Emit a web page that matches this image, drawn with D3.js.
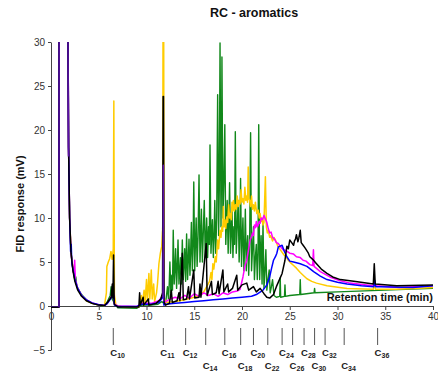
<!DOCTYPE html>
<html>
<head>
<meta charset="utf-8">
<script src="https://cdn.jsdelivr.net/npm/d3@7"></script>
<style>
  html, body { margin: 0; padding: 0; background: #fff; }
  svg { display: block; font-family: "Liberation Sans", Arial, sans-serif; }
</style>
</head>
<body>
<svg id="chart" width="438" height="373"></svg>
<script>
// ---------------- DATA ----------------
const chartTitle = "RC - aromatics";
const yTicks = [-5, 0, 5, 10, 15, 20, 25, 30];
const xTicks = [0, 5, 10, 15, 20, 25, 30, 35, 40];

const carbonLabels = ["10","11","12","14","16","18","20","22","24","26","28","30","32","34","36"];
const carbonTimes  = [6.52, 11.76, 14.1, 16.2, 18.2, 19.86, 21.2, 22.7, 24.2, 25.3, 26.5, 27.6, 28.7, 30.7, 34.2];
const carbonRow    = [0, 0, 0, 1, 0, 1, 0, 1, 0, 1, 0, 1, 0, 1, 0];

// [retention time (min), FID response (mV)]
const greenTrace = [[0,-0.15],[0.82,-0.15],[0.86,32],[1.78,32],[1.84,18],[1.95,10],[2.1,6],[2.3,4.2],[2.5,3],[2.6,3.3],[2.7,2.2],[3.2,1.3],[3.7,0.7],[4.3,0.3],[5.0,0.1],[5.6,0],[5.9,0.5],[6.2,1.2],[6.3,2.2],[6.4,0.8],[6.7,0.2],[7.0,-0.2],[9.0,-0.25],[9.5,0.1],[10.5,0.1],[11.2,0.2],[11.6,0.5],[11.9,0.2],[12.05,0.8],[12.2,2.2],[12.3,0.8],[12.38,2.5],[12.45,5.0],[12.55,1.5],[12.65,3.5],[12.72,1.8],[12.8,8.6],[12.9,2.5],[12.97,4.0],[13.05,6.5],[13.15,2],[13.22,4.2],[13.3,7.5],[13.4,2.5],[13.48,4.0],[13.55,5.5],[13.65,2.5],[13.75,7.5],[13.85,3],[13.92,4.5],[14.0,6.5],[14.1,2.8],[14.2,8.2],[14.3,3],[14.37,5.0],[14.45,7.6],[14.55,3.5],[14.62,6.0],[14.7,9.5],[14.8,4],[14.88,7.0],[14.95,14.1],[15.05,4],[15.12,7.0],[15.2,10],[15.3,4.5],[15.4,8.0],[15.5,14.9],[15.6,5],[15.68,8.0],[15.75,11],[15.85,5],[15.95,8.5],[16.05,12],[16.15,5.5],[16.22,7.5],[16.3,10],[16.4,5.5],[16.5,9.0],[16.58,7.0],[16.65,18.3],[16.75,6],[16.82,8.0],[16.9,9.8],[17.0,5.5],[17.08,8.0],[17.15,12],[17.25,6],[17.35,10],[17.45,24],[17.55,8],[17.62,13],[17.7,29.9],[17.8,9],[17.85,15],[17.9,28.3],[18.0,10],[18.1,14],[18.2,20.6],[18.3,7],[18.38,9.5],[18.45,12],[18.55,6],[18.62,9.0],[18.7,14],[18.8,6],[18.88,8.5],[18.95,11],[19.05,5.5],[19.15,9.0],[19.22,7.0],[19.3,19.8],[19.4,6],[19.5,9.0],[19.6,12],[19.7,5],[19.78,8.0],[19.85,14.5],[19.95,4.5],[20.02,7.5],[20.1,10],[20.2,4],[20.28,7.0],[20.35,11],[20.45,4],[20.52,6.5],[20.6,8],[20.7,3.5],[20.8,7.0],[20.9,19.7],[21.0,4],[21.1,6.5],[21.2,9],[21.3,3],[21.4,5.5],[21.5,7],[21.6,3],[21.68,6.0],[21.75,20.6],[21.85,3],[21.92,5.5],[22.0,8],[22.1,2.5],[22.2,9.4],[22.3,2],[22.4,4.0],[22.5,6.4],[22.6,1.8],[22.72,3.0],[22.85,4.1],[22.95,1.5],[23.08,2.2],[23.2,3],[23.35,1.2],[23.6,1.0],[23.95,1.1],[24.0,3.2],[24.05,1.0],[24.45,1.1],[24.5,2.4],[24.55,1.1],[25,1.2],[26.05,1.3],[26.1,3],[26.15,1.3],[27.55,1.5],[27.6,2],[27.65,1.5],[30,1.6],[35,1.8],[40,2.0]];

const yellowTrace = [[0,-0.15],[0.82,-0.15],[0.86,32],[1.78,32],[1.84,18],[1.95,10],[2.1,6],[2.3,4.2],[2.5,3],[2.8,2],[3.2,1.2],[3.7,0.6],[4.3,0.3],[5.0,0.1],[5.6,0.05],[5.8,1.5],[5.85,4.5],[6.0,5.0],[6.15,5.4],[6.28,6.2],[6.4,5.3],[6.52,6.5],[6.58,23.3],[6.64,1.2],[6.8,0.1],[7.5,-0.1],[9.2,-0.1],[9.3,0.3],[9.45,1.2],[9.55,0.2],[9.75,1.8],[9.85,0.3],[10.0,3.0],[10.1,0.5],[10.25,3.7],[10.35,0.8],[10.5,4.1],[10.6,0.8],[10.75,2.5],[10.85,0.5],[11.05,1.5],[11.15,2.5],[11.3,4.8],[11.45,6.0],[11.6,6.8],[11.7,9],[11.73,32],[11.8,32],[11.84,1.0],[12.0,0.4],[13,0.5],[14,0.7],[15,1.0],[15.5,1.2],[16,1.6],[16.3,2.2],[16.6,2.8],[16.75,3.8],[16.85,3.0],[16.95,4.8],[17.05,4.2],[17.2,5.6],[17.3,5.0],[17.45,7.5],[17.55,6.5],[17.7,8.6],[17.8,7.8],[17.9,9.0],[17.98,8.5],[18.05,11.3],[18.12,9.0],[18.2,9.8],[18.3,8.8],[18.4,10.1],[18.5,9.5],[18.6,11.5],[18.7,10.0],[18.8,10.5],[18.88,9.8],[18.95,11.8],[19.02,10.8],[19.1,12],[19.2,10.8],[19.3,11.5],[19.4,11.0],[19.5,12.5],[19.6,11.3],[19.7,12.0],[19.8,11.6],[19.9,13.2],[20.0,11.8],[20.1,12.2],[20.2,11.6],[20.3,13.5],[20.4,12.0],[20.5,12.5],[20.58,11.8],[20.65,15.8],[20.72,12.2],[20.8,12],[20.9,11.3],[21.0,12.5],[21.1,11.0],[21.2,11.5],[21.3,10.8],[21.4,11.8],[21.55,10.5],[21.7,10.9],[21.8,10.0],[21.9,10.5],[22.0,9.6],[22.1,10],[22.2,9.2],[22.3,9.5],[22.45,14.7],[22.55,9],[22.65,8.3],[22.75,8.6],[22.9,7.8],[23.0,8],[23.2,7.4],[23.35,7.8],[23.5,7.5],[23.75,6.8],[24.0,6.4],[24.2,6.1],[24.4,5.8],[24.6,5.6],[24.85,5.2],[25.1,4.9],[25.4,4.6],[25.7,4.3],[26.1,3.8],[26.4,3.5],[26.8,3.1],[27.3,2.8],[27.8,2.6],[28.9,2.3],[31,2.0],[33.75,1.9],[33.85,2.4],[34.0,1.9],[36,1.9],[38,2.0],[40,2.1]];

const magentaTrace = [[0,-0.15],[0.82,-0.15],[0.86,32],[1.78,32],[1.84,18],[1.95,10],[2.1,6],[2.3,4.2],[2.42,3.5],[2.48,5.2],[2.55,3],[2.8,2],[3.2,1.2],[3.7,0.7],[4.3,0.35],[5.0,0.15],[5.6,0.05],[5.9,0.3],[6.3,1.0],[6.55,1.5],[6.65,0.2],[7,0],[9,-0.05],[9.5,0.3],[10.5,0.3],[11.3,0.6],[11.7,1.2],[11.76,3],[11.82,0.3],[12,0.5],[12.5,0.8],[13,1.0],[13.5,0.8],[14,1.2],[14.5,0.9],[15,1.4],[15.5,1.1],[16,1.5],[16.5,1.2],[17,1.4],[17.5,1.1],[18,1.5],[18.5,1.3],[19,1.6],[19.5,1.7],[19.8,1.9],[20.1,3.3],[20.3,4.5],[20.5,5.2],[20.7,6.5],[20.85,7.5],[21.0,7.9],[21.1,8.3],[21.2,8.0],[21.3,9.2],[21.4,8.9],[21.5,9.6],[21.6,9.0],[21.7,9.2],[21.8,9.6],[21.9,9.4],[22.0,10.0],[22.15,9.8],[22.3,10.3],[22.45,9.9],[22.6,9.5],[22.75,8.8],[22.9,8.3],[23.05,8.4],[23.2,7.8],[23.4,7.6],[23.6,7.2],[23.8,7.1],[24.0,6.8],[24.3,6.4],[24.6,6.3],[25.0,6.0],[25.4,5.9],[25.7,5.6],[26.1,5.5],[26.4,5.2],[26.7,5.1],[27.1,4.7],[27.4,4.6],[27.48,6.4],[27.55,4.5],[28.2,3.9],[29.2,3.3],[30.2,2.9],[31.3,2.6],[33.7,2.3],[33.85,2.8],[34.0,2.3],[36.5,2.1],[40,2.3]];

const blueTrace = [[0,-0.15],[0.82,-0.15],[0.86,32],[1.78,32],[1.84,18],[1.95,10],[2.05,6.2],[2.12,7.0],[2.18,4.8],[2.3,4.2],[2.5,3],[2.8,2],[3.2,1.2],[3.7,0.7],[4.3,0.35],[5.0,0.15],[5.6,0.05],[5.9,0.3],[6.3,0.9],[6.55,1.2],[6.65,0.1],[7,-0.05],[9,-0.05],[9.5,0.2],[10.5,0.2],[11.3,0.4],[11.7,1.0],[11.76,2.5],[11.82,0.1],[12,0.2],[13,0.3],[14,0.4],[15,0.5],[16,0.6],[17,0.7],[18,0.8],[19,0.9],[20,1.0],[21,1.1],[21.5,1.3],[22.2,1.8],[22.6,2.4],[22.9,3.3],[23.1,4.3],[23.3,5.2],[23.5,5.6],[23.65,6.0],[23.8,6.7],[24.0,6.8],[24.2,6.9],[24.4,6.3],[24.7,5.6],[25.0,5.1],[25.4,5.0],[26.1,4.8],[26.8,4.5],[27.5,3.9],[28.2,3.4],[28.9,3.0],[30,2.7],[31,2.5],[32.5,2.3],[33.8,2.2],[33.9,2.9],[34.0,2.2],[34.5,2.2],[37.9,2.1],[40,2.3]];

const blackTrace = [[0,-0.15],[0.82,-0.15],[0.86,32],[1.78,32],[1.84,18],[1.95,10],[2.1,6],[2.3,4.0],[2.5,2.8],[2.8,1.8],[3.2,1.1],[3.7,0.6],[4.3,0.3],[5.0,0.1],[5.6,0.05],[5.9,0.4],[6.3,1.0],[6.42,2.5],[6.48,0.9],[6.55,5.8],[6.62,0.2],[7,-0.1],[9.2,-0.1],[9.28,1.5],[9.34,0.1],[9.65,1.0],[9.7,0.1],[10.2,0.8],[10.25,0.1],[11.0,0.3],[11.5,0.8],[11.68,1.5],[11.74,23.8],[11.78,23.8],[11.84,0.4],[12,0.1],[12.4,0.3],[12.6,1.8],[12.7,0.4],[13.2,0.6],[13.4,1.5],[13.5,0.6],[13.75,6.0],[13.85,0.7],[14.2,0.8],[14.4,2.2],[14.5,0.8],[14.95,4.1],[15.05,0.9],[15.5,1.0],[15.6,2.5],[15.7,1.0],[16.25,7.1],[16.35,1.2],[16.8,2.8],[16.9,1.3],[17.3,1.5],[17.5,2.8],[17.6,1.4],[18.0,4.1],[18.1,1.6],[18.5,2.5],[18.6,1.6],[19.0,2.0],[19.45,3.5],[19.55,1.8],[20.0,2.4],[20.5,2.6],[20.7,1.8],[21.2,2.2],[21.5,1.6],[21.9,2.0],[22.3,1.4],[22.6,1.0],[22.9,0.9],[23.3,1.3],[23.6,2.2],[24.0,3.2],[24.2,3.7],[24.5,5.2],[24.7,6.8],[24.85,6.5],[25.0,7.5],[25.2,7.2],[25.4,6.9],[25.5,7.4],[25.6,7.6],[25.7,8.1],[25.85,7.3],[25.95,7.7],[26.1,8.6],[26.2,7.2],[26.4,6.9],[26.6,6.6],[26.95,6.0],[27.1,5.6],[27.4,5.3],[27.8,4.8],[28.3,4.2],[28.9,3.7],[29.5,3.3],[30.3,3.0],[31.7,2.8],[33.75,2.5],[33.85,4.8],[33.95,2.5],[36.2,2.3],[40,2.4]];

const purpleTrace = [[0.82,-0.15],[0.86,32],[1.78,32],[1.83,17],null,[11.72,1.0],[11.75,16],[11.77,16],[11.8,0.5]];

const seriesList = [
  { name: "green",   data: greenTrace,   color: "#11881a", width: 1.4 },
  { name: "yellow",  data: yellowTrace,  color: "#ffcc00", width: 1.5 },
  { name: "magenta", data: magentaTrace, color: "#ff00ff", width: 1.5 },
  { name: "blue",    data: blueTrace,    color: "#0000ff", width: 1.5 },
  { name: "black",   data: blackTrace,   color: "#000000", width: 1.5 },
  { name: "purple",  data: purpleTrace,  color: "#5a10a8", width: 1.4 }
];

// ---------------- CHART ----------------
const svg = d3.select("#chart");
const x = d3.scaleLinear().domain([0, 40]).range([51, 433]);
const y = d3.scaleLinear().domain([-5, 30]).range([350, 42]);

svg.append("defs").append("clipPath").attr("id", "plotClip")
  .append("rect")
  .attr("x", x(0)).attr("y", y(30))
  .attr("width", x(40) - x(0)).attr("height", y(-5) - y(30));

// Title
svg.append("text")
  .attr("x", 254).attr("y", 17)
  .attr("text-anchor", "middle")
  .style("font-size", "12.5px").style("font-weight", "bold").style("fill", "#111")
  .text(chartTitle);

// Y axis
const yAxis = svg.append("g")
  .attr("transform", `translate(${x(0)},0)`)
  .call(d3.axisLeft(y).tickValues(yTicks).tickSize(3).tickSizeOuter(0).tickPadding(3));
yAxis.select(".domain").attr("stroke", "#444");
yAxis.selectAll(".tick line").attr("stroke", "#444");
yAxis.selectAll(".tick text").style("font-size", "10px").style("fill", "#333")
  .style("font-family", "'Liberation Sans', Arial, sans-serif");

// X axis at y = 0
const xAxis = svg.append("g")
  .attr("transform", `translate(0,${y(0)})`)
  .call(d3.axisBottom(x).tickValues(xTicks).tickSize(4).tickSizeOuter(0).tickPadding(3));
xAxis.select(".domain").attr("stroke", "#444");
xAxis.selectAll(".tick line").attr("stroke", "#444");
xAxis.selectAll(".tick text").style("font-size", "10px").style("fill", "#333")
  .style("font-family", "'Liberation Sans', Arial, sans-serif");

// Axis titles
svg.append("text")
  .attr("transform", `translate(24,${(y(30) + y(-5)) / 2 + 8}) rotate(-90)`)
  .attr("text-anchor", "middle")
  .style("font-size", "11px").style("font-weight", "bold").style("fill", "#111")
  .text("FID response (mV)");

svg.append("text")
  .attr("x", x(40)).attr("y", y(0) - 5)
  .attr("text-anchor", "end")
  .style("font-size", "11px").style("font-weight", "bold").style("fill", "#111")
  .text("Retention time (min)");

// Traces
const line = d3.line()
  .defined(d => d !== null)
  .x(d => x(d[0]))
  .y(d => y(d[1]));

const plot = svg.append("g").attr("clip-path", "url(#plotClip)");
plot.selectAll("path.trace")
  .data(seriesList)
  .join("path")
  .attr("class", "trace")
  .attr("fill", "none")
  .attr("stroke", d => d.color)
  .attr("stroke-width", d => d.width)
  .attr("stroke-linejoin", "round")
  .attr("d", d => line(d.data));

// Carbon-number markers
const markers = carbonLabels.map((lab, i) => ({ lab, t: carbonTimes[i], row: carbonRow[i] }));
const mg = svg.append("g");
mg.selectAll("line")
  .data(markers)
  .join("line")
  .attr("x1", d => x(d.t)).attr("x2", d => x(d.t))
  .attr("y1", 328).attr("y2", 345)
  .attr("stroke", "#555").attr("stroke-width", 1);

const lt = mg.selectAll("text")
  .data(markers)
  .join("text")
  .attr("x", d => x(d.t) - 3)
  .attr("y", d => d.row === 0 ? 356 : 369)
  .style("font-size", "9.5px").style("font-weight", "bold").style("fill", "#222");
lt.append("tspan").text("C");
lt.append("tspan").attr("dy", 2).style("font-size", "7px").text(d => d.lab);
</script>
</body>
</html>
